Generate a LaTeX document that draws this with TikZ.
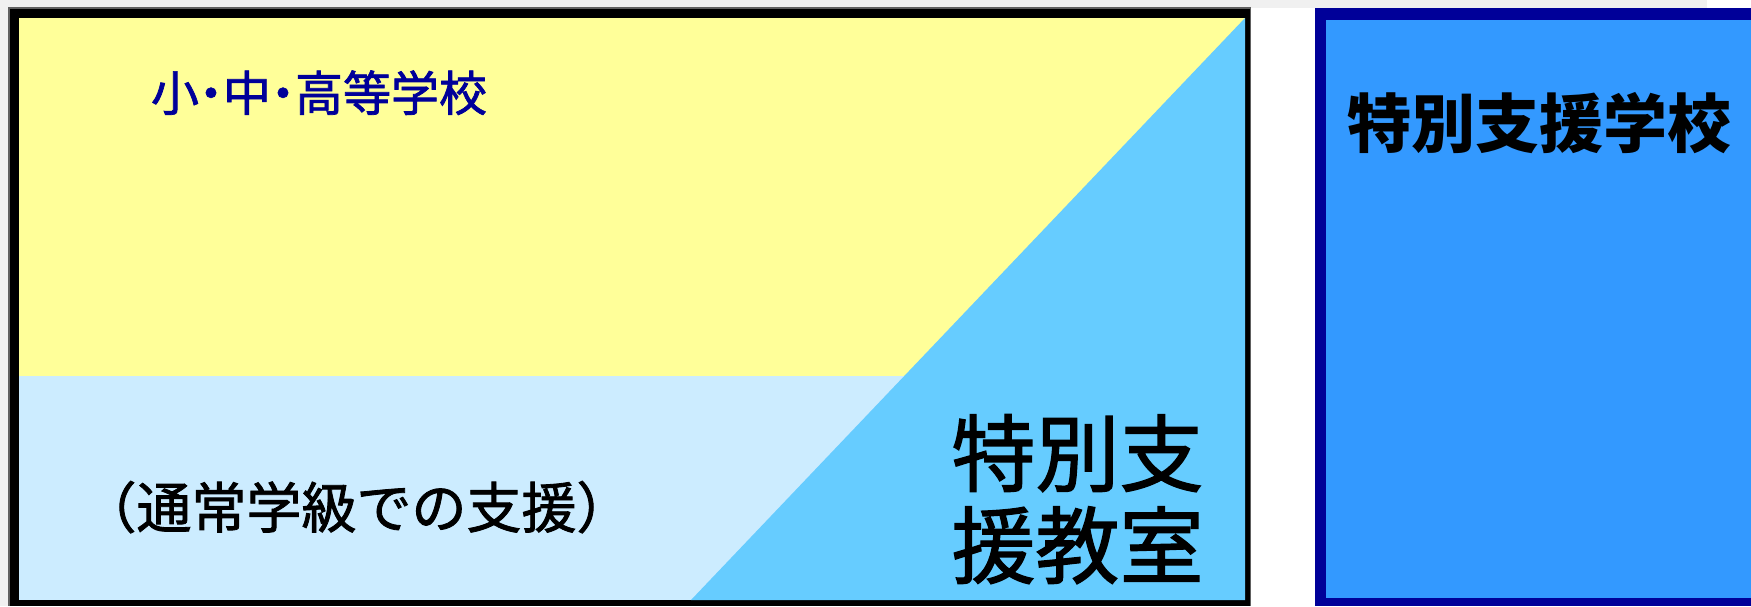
\documentclass[tikz,border=0pt]{standalone}
\usepackage{fontspec}
\newfontfamily\jp[FakeBold=1.5]{Noto Sans CJK JP}
\newfontfamily\jpbold{Noto Sans CJK JP}
\definecolor{bggray}{HTML}{F0F0F0}
\definecolor{framegray}{HTML}{606060}
\definecolor{yel}{HTML}{FFFF99}
\definecolor{lblue}{HTML}{CCECFF}
\definecolor{triblue}{HTML}{66CCFF}
\definecolor{navy}{HTML}{000099}
\definecolor{sblue}{HTML}{3399FF}
\tikzset{
  lbl/.style={inner sep=0pt, outer sep=0pt, anchor=base},
}
\begin{document}
\begin{tikzpicture}[x=0.5pt,y=-0.5pt]
\useasboundingbox (0,0) rectangle (1751,606);
\clip (0,0) rectangle (1751,606);
% background strips
\fill[bggray] (0,0) rectangle (1707,8);
\fill[bggray] (0,0) rectangle (8,606);
% left frame
\fill[framegray] (8,7) rectangle (1251,606);
\fill[black] (10,9) rectangle (1250,606);
\fill[yel] (19,18) rectangle (1245,600);
\fill[lblue] (19,376) rectangle (1245,600);
\fill[triblue] (1245,18) -- (1245,600) -- (691,600) -- cycle;
% right box
\fill[navy] (1315,8) rectangle (1800,606);
\fill[sblue] (1326,20) rectangle (1800,598);
% texts
\node[lbl, text=navy, font=\jp\fontsize{24}{24}\selectfont] (school) at (319,111)
  {小\kern-0.25em・\kern-0.25em中\kern-0.25em・\kern-0.25em高等学校};
\node[lbl, font=\jp\fontsize{27.5}{27.5}\selectfont] (regular) at (356.5,528)
  {（通常学級での支援）};
\node[lbl, font=\jp\fontsize{42}{42}\selectfont] (room1) at (1077.5,485) {特別支};
\node[lbl, font=\jp\fontsize{42}{42}\selectfont] (room2) at (1077.5,577) {援教室};
\node[lbl, font=\jpbold\bfseries\fontsize{32}{32}\selectfont] (special) at (1539,147) {特別支援学校};
\end{tikzpicture}
\end{document}
